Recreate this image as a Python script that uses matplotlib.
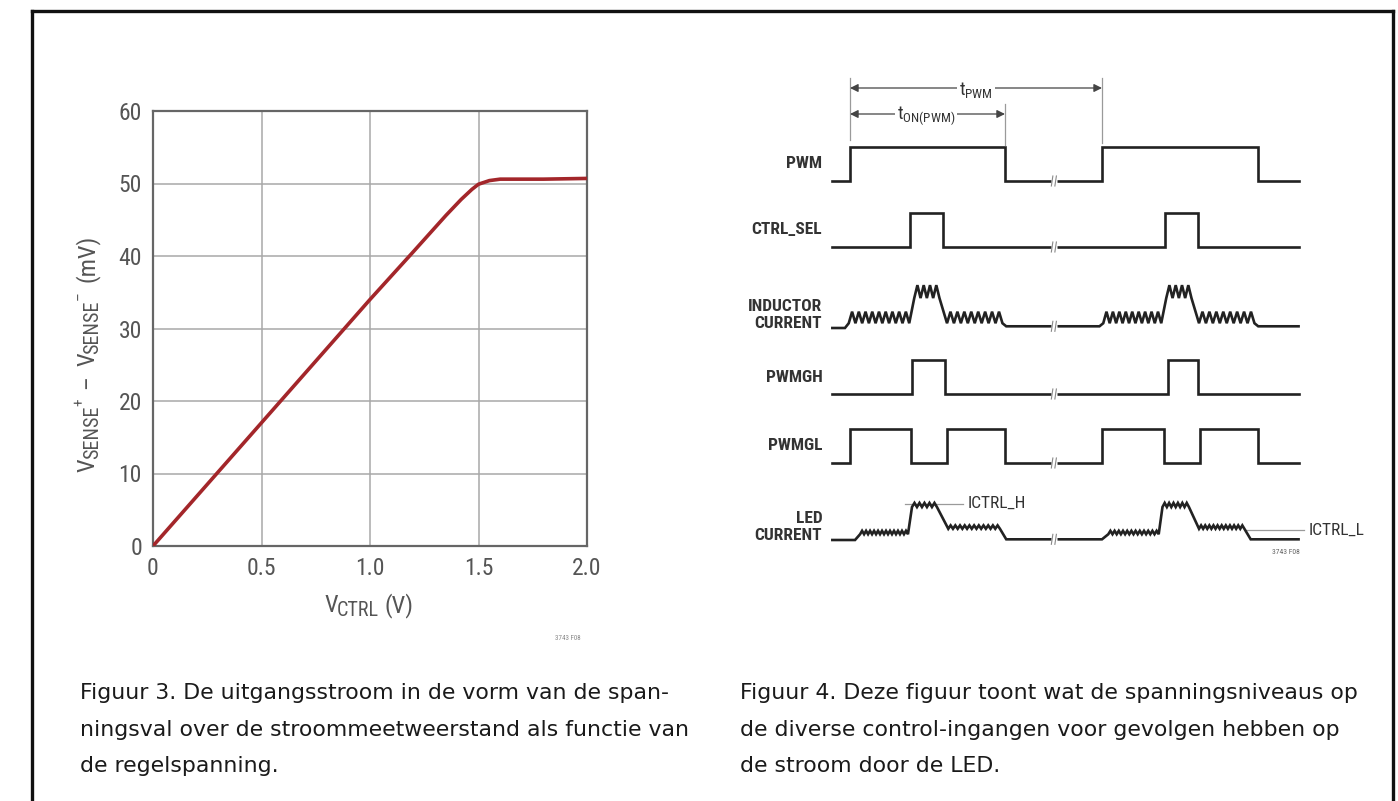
import numpy as np
import matplotlib
matplotlib.use("Agg")
import matplotlib.pyplot as plt
from matplotlib.lines import Line2D

# ---------------- data: figure 3 (transfer curve) ----------------
vctrl = [0.0, 0.5, 1.0, 1.2, 1.35, 1.42, 1.47, 1.5, 1.55, 1.6, 1.8, 2.0]
vsense = [0.0, 17.0, 34.0, 40.6, 45.6, 47.8, 49.2, 49.9, 50.4, 50.6, 50.6, 50.7]
x_ticks = [0, 0.5, 1.0, 1.5, 2.0]
x_ticklabels = ["0", "0.5", "1.0", "1.5", "2.0"]
y_ticks = [0, 10, 20, 30, 40, 50, 60]

# ---------------- data: figure 4 (timing diagram), time in % of t_PWM ----------------
t_start, t_end = -7, 178
t_on, t_pwm = 61.5, 100
t_break = 81
pwm_edges = [0, 61.5, 100, 162]
ctrl_sel_edges = [24, 37, 125, 138]
pwmgh_edges = [24.6, 37.7, 126, 138]
pwmgl_edges = [0, 24.3, 38.3, 61.5, 100, 124.5, 139, 162]
# waveform pieces: (t0, t1, level, ripple amplitude, number of teeth); 0 teeth = flat
inductor_segments = [(-7, -2, 0.0, 0, 0), (-0.5, 23.5, 0.31, 0.17, 9), (25.5, 35.5, 1.07, 0.19, 4),
                     (38.5, 60.5, 0.31, 0.17, 8), (62, 99, 0.05, 0, 0),
                     (100.5, 123.5, 0.31, 0.17, 9), (125.5, 135.5, 1.07, 0.19, 4),
                     (138.5, 160.5, 0.31, 0.17, 8), (162, 178, 0.05, 0, 0)]
led_segments = [(-7, 2, 0.0, 0, 0), (4, 23, 0.22, 0.05, 12), (24.6, 34.5, 1.03, 0.06, 5),
                (39, 59.5, 0.38, 0.05, 11), (62, 100, 0.02, 0, 0),
                (102.5, 122.5, 0.22, 0.05, 12), (124, 134.5, 1.03, 0.06, 6),
                (138.5, 156.5, 0.38, 0.05, 11), (159, 178, 0.02, 0, 0)]
row_names = ["PWM", "CTRL_SEL", "INDUCTOR\nCURRENT", "PWMGH", "PWMGL", "LED\nCURRENT"]

captions = [
    ["Figuur 3. De uitgangsstroom in de vorm van de span-",
     "ningsval over de stroommeetweerstand als functie van",
     "de regelspanning."],
    ["Figuur 4. Deze figuur toont wat de spanningsniveaus op",
     "de diverse control-ingangen voor gevolgen hebben op",
     "de stroom door de LED."],
]

# axis label pieces: (text, role) with role 'n' normal, 'sub' subscript, 'sup' superscript
ylabel_pieces = [("V", "n"), ("SENSE", "sub"), ("+", "sup"), ("–", "n"),
                 ("V", "n"), ("SENSE", "sub"), ("–", "sup"), ("(mV)", "n")]
xlabel_pieces = [("V", "n"), ("CTRL", "sub"), ("(V)", "n")]

# ---------------- style ----------------
NARROW = ["Roboto Condensed", "DejaVu Sans"]
plt.rcParams["font.family"] = NARROW
plt.rcParams["mathtext.fontset"] = "custom"
plt.rcParams["mathtext.rm"] = "Roboto Condensed"
plt.rcParams["mathtext.it"] = "Roboto Condensed"
plt.rcParams["mathtext.bf"] = "Roboto Condensed:bold"
GRAY_TXT = "#555555"
INK = "#222222"
W, Hpx = 1398, 801
ylabel_gaps = [-1, 0, 9, 9, -1, 0, 9, 0]
xlabel_gaps = [-1, 6, 0]

fig = plt.figure(figsize=(13.98, 8.01), dpi=100)
renderer = fig.canvas.get_renderer()

def fx(px): return px / W
def fy(py): return 1 - py / Hpx

# border box
for xs, ys in [([32, 1393], [11, 11]), ([32, 32], [11, 805]), ([1393, 1393], [11, 805])]:
    fig.add_artist(Line2D([fx(v) for v in xs], [fy(v) for v in ys], color="#111111", lw=2.4))

# ---------------- left chart ----------------
ax = fig.add_axes([fx(153), fy(546), (587 - 153) / W, (546 - 111) / Hpx])
ax.plot(vctrl, vsense, color="#a3262a", lw=2.6, solid_capstyle="round", zorder=3)
ax.set_xlim(0, 2.0)
ax.set_ylim(0, 60)
ax.set_xticks(x_ticks)
ax.set_xticklabels(x_ticklabels)
ax.set_yticks(y_ticks)
ax.grid(True, color="#a8a8a8", lw=1.1)
ax.tick_params(length=0, labelsize=17, labelcolor=GRAY_TXT, pad=8)
for s in ax.spines.values():
    s.set_color("#666666")
    s.set_linewidth(1.6)
fig.text(fx(568), fy(638), "3743 F08", fontsize=5, color="#888888", ha="center", va="center")

ROLE = {"n": (17.5, 0), "sub": (14.5, 4), "sup": (11, -10)}

def label_pieces(pieces, gaps, x0, y0, vertical):
    """Lay out label pieces along the baseline starting at pixel (x0, y0), top-left origin."""
    pos = 0.0
    for (txt, role), gap in zip(pieces, gaps):
        size, shift = ROLE[role]
        if vertical:
            t = fig.text(fx(x0 + shift), fy(y0 - pos), txt, rotation=90, rotation_mode="anchor",
                         ha="left", va="baseline", fontsize=size, color=GRAY_TXT)
            ext = t.get_window_extent(renderer).height
        else:
            t = fig.text(fx(x0 + pos), fy(y0 + shift), txt, ha="left", va="baseline",
                         fontsize=size, color=GRAY_TXT)
            ext = t.get_window_extent(renderer).width
        pos += ext + gap

label_pieces(ylabel_pieces, ylabel_gaps, 94, 472, True)
label_pieces(xlabel_pieces, xlabel_gaps, 324, 612, False)

# ---------------- right timing diagram ----------------
scale = 2.52           # px per time unit
t0_px = 850
ax2 = fig.add_axes([0, 0, 1, 1])
ax2.set_xlim(-t0_px / scale, (W - t0_px) / scale)
ax2.set_ylim(Hpx, 0)
ax2.axis("off")
ax2.patch.set_alpha(0)

row_base = [181, 247, 328, 394, 463, 540]
row_h = 34
label_t = -11
LW = 1.9

def digital(edges, base):
    ts = [t_start]
    ys = [0]
    lvl = 0
    for e in edges:
        ts += [e, e]
        ys += [lvl, 1 - lvl]
        lvl = 1 - lvl
    ts.append(t_end)
    ys.append(lvl)
    return np.array(ts), base - np.array(ys) * row_h

def rippled(segments, base):
    ts, ys = [], []
    for (a, b, lvl, amp, n) in segments:
        if n == 0:
            ts += [a, b]
            ys += [lvl, lvl]
        else:
            tt = np.linspace(a, b, 2 * n + 1)
            yy = [lvl - amp if i % 2 == 0 else lvl + amp for i in range(2 * n + 1)]
            ts += list(tt)
            ys += yy
    return np.array(ts), base - np.array(ys) * row_h

waves = [
    digital(pwm_edges, row_base[0]),
    digital(ctrl_sel_edges, row_base[1]),
    rippled(inductor_segments, row_base[2]),
    digital(pwmgh_edges, row_base[3]),
    digital(pwmgl_edges, row_base[4]),
    rippled(led_segments, row_base[5]),
]
for (t, y), base, name in zip(waves, row_base, row_names):
    ax2.plot(t, y, color=INK, lw=LW, solid_joinstyle="miter")
    yb = np.interp(t_break, t, y)
    # break mark on the low line
    ax2.plot([t_break - 1.1, t_break + 1.1], [yb, yb], color="white", lw=LW + 1.5,
             solid_capstyle="butt", zorder=4)
    for dt in (-0.8, 0.6):
        ax2.plot([t_break + dt - 0.3, t_break + dt + 0.3], [yb + 5, yb - 5],
                 color="#888888", lw=0.8, zorder=5)
    if "\n" not in name:
        ax2.text(label_t, base - row_h / 2, name, ha="right", va="center",
                 fontsize=12.5, color="#333333", weight="bold")
    else:
        ax2.text(label_t, base - 13, name, ha="right", va="center", fontsize=12.5,
                 color="#333333", weight="bold", linespacing=1.2)

# dimension lines
GRAYL = "#9a9a9a"
ax2.plot([0, 0], [78, 140], color=GRAYL, lw=0.9)
ax2.plot([t_on, t_on], [104, 145], color=GRAYL, lw=0.9)
ax2.plot([t_pwm, t_pwm], [78, 143], color=GRAYL, lw=0.9)
arrow = dict(arrowstyle="<|-|>", color="#444444", lw=0.9, mutation_scale=12,
             shrinkA=0, shrinkB=0)
ax2.annotate("", xy=(0, 88), xytext=(t_pwm, 88), arrowprops=arrow)
ax2.annotate("", xy=(0, 114), xytext=(t_on, 114), arrowprops=arrow)
ax2.text(t_pwm * 0.5, 90, r"t$_{\mathrm{PWM}}$", ha="center", va="center", fontsize=13.5,
         color="#333333", bbox=dict(fc="white", ec="none", pad=1.5))
ax2.text(t_on * 0.49, 116, r"t$_{\mathrm{ON(PWM)}}$", ha="center", va="center", fontsize=13.5,
         color="#333333", bbox=dict(fc="white", ec="none", pad=1.5))

# ICTRL annotations
y_h = row_base[5] - 1.03 * row_h - 1
ax2.plot([22, 45], [y_h, y_h], color=GRAYL, lw=0.9, zorder=0)
ax2.text(46.5, y_h - 1, "ICTRL_H", ha="left", va="center", fontsize=12.5, color="#333333")
y_l = row_base[5] - 0.3 * row_h
ax2.plot([157, 180], [y_l, y_l], color=GRAYL, lw=0.9, zorder=0)
ax2.text(182, y_l, "ICTRL_L", ha="left", va="center", fontsize=12.5, color="#333333")
ax2.text(173, row_base[5] + 12, "3743 F08", ha="center", va="center", fontsize=5.5,
         color="#666666")

# ---------------- captions ----------------
for cx, lines in zip([80, 740], captions):
    for i, line in enumerate(lines):
        fig.text(fx(cx), fy(693 + i * 36.5), line, ha="left", va="center",
                 fontsize=15.8, color="#1a1a1a", family=["DejaVu Sans"])

fig.savefig("out.png", dpi=100)
